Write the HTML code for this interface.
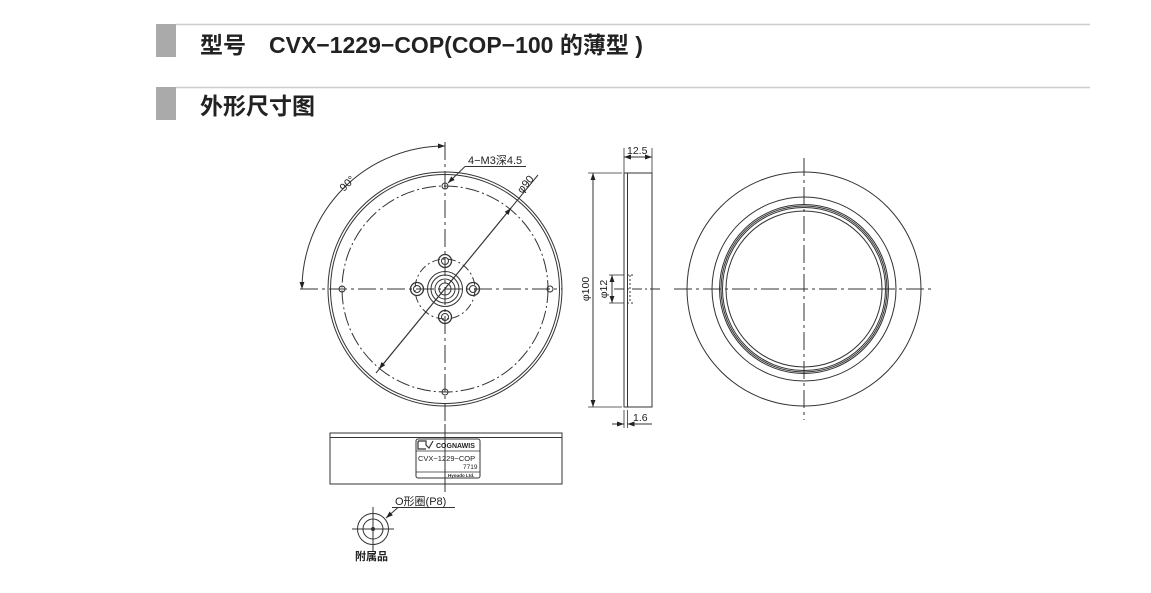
<!DOCTYPE html>
<html><head><meta charset="utf-8"><style>
html,body{margin:0;padding:0;background:#fff;}
svg{display:block;}
text{font-family:"Liberation Sans","Noto Sans CJK SC",sans-serif;fill:#222;}
</style></head><body>
<svg width="1151" height="593" viewBox="0 0 1151 593" xmlns="http://www.w3.org/2000/svg">
<defs>
<marker id="a" viewBox="0 0 10 10" refX="10" refY="5" markerWidth="7" markerHeight="7" orient="auto-start-reverse" markerUnits="userSpaceOnUse"><path d="M0,1.5 L10,5 L0,8.5 z" fill="#222"/></marker>
</defs>
<!-- headers -->
<rect x="156" y="24" width="20" height="33" fill="#aaa"/>
<line x1="176" y1="24.5" x2="1090" y2="24.5" stroke="#ccc" stroke-width="1.5"/>
<text x="200" y="53" font-size="23" font-weight="bold">型号　CVX−1229−COP(COP−100 的薄型 )</text>
<rect x="156" y="87" width="20" height="33" fill="#aaa"/>
<line x1="176" y1="87.5" x2="1090" y2="87.5" stroke="#ccc" stroke-width="1.5"/>
<text x="200" y="114" font-size="23" font-weight="bold">外形尺寸图</text>

<g fill="none" stroke="#333" stroke-width="1">
<!-- front view -->
<circle cx="445" cy="289" r="117"/>
<circle cx="445" cy="289" r="114.5"/>
<circle cx="445" cy="289" r="103" stroke-dasharray="14 3 2 3"/>
<line x1="300" y1="289" x2="562" y2="289" stroke-dasharray="18 4 3 4"/>
<line x1="445" y1="142" x2="445" y2="432" stroke-dasharray="18 4 3 4"/>
<circle cx="445" cy="186" r="3"/><circle cx="445" cy="392" r="3"/>
<circle cx="342" cy="289" r="3"/><circle cx="550" cy="289" r="3"/>
<circle cx="445" cy="289" r="30" stroke-dasharray="8 3 2 3"/>
<circle cx="445" cy="289" r="17.5"/><circle cx="445" cy="289" r="14"/><circle cx="445" cy="289" r="10"/><circle cx="445" cy="289" r="6"/>
<g stroke-width="1.3">
<circle cx="445" cy="261" r="6.5"/><circle cx="445" cy="317" r="6.5"/><circle cx="417" cy="289" r="6.5"/><circle cx="473" cy="289" r="6.5"/>
</g>
<circle cx="445" cy="261" r="3.5"/><circle cx="445" cy="317" r="3.5"/><circle cx="417" cy="289" r="3.5"/><circle cx="473" cy="289" r="3.5"/>
<line x1="376" y1="373" x2="538" y2="175"/>
<line x1="379" y1="369" x2="511" y2="208" marker-start="url(#a)" marker-end="url(#a)"/>
<path d="M445,146 A143,143 0 0 0 302,289" marker-start="url(#a)" marker-end="url(#a)"/>
<line x1="465" y1="166.5" x2="526" y2="166.5"/>
<line x1="465" y1="166.5" x2="448" y2="183" marker-end="url(#a)"/>
<!-- side view -->
<rect x="624" y="173" width="28" height="234"/>
<line x1="627.5" y1="173" x2="627.5" y2="407"/>
<line x1="624" y1="148" x2="624" y2="173" stroke-width="0.8"/>
<line x1="652" y1="148" x2="652" y2="173" stroke-width="0.8"/>
<line x1="624" y1="157" x2="652" y2="157" marker-start="url(#a)" marker-end="url(#a)"/>
<line x1="588" y1="173" x2="622" y2="173" stroke-width="0.8"/>
<line x1="588" y1="407" x2="622" y2="407" stroke-width="0.8"/>
<line x1="593" y1="173" x2="593" y2="407" marker-start="url(#a)" marker-end="url(#a)"/>
<line x1="609" y1="275" x2="624" y2="275" stroke-width="0.8"/>
<line x1="609" y1="303" x2="624" y2="303" stroke-width="0.8"/>
<line x1="612" y1="275" x2="612" y2="303" marker-start="url(#a)" marker-end="url(#a)"/>
<path d="M627,275 H633 M627,303 H633 M630,275 V303" stroke-dasharray="2 2"/>
<line x1="614" y1="289" x2="660" y2="289" stroke-dasharray="10 3 2 3"/>
<line x1="624" y1="410" x2="624" y2="428" stroke-width="0.8"/>
<line x1="627.5" y1="410" x2="627.5" y2="428" stroke-width="0.8"/>
<line x1="612" y1="424" x2="624" y2="424" marker-end="url(#a)"/>
<line x1="652" y1="424" x2="627.5" y2="424" marker-end="url(#a)"/>
<!-- right view -->
<circle cx="804" cy="289" r="117"/>
<circle cx="804" cy="289" r="92"/>
<circle cx="804" cy="289" r="84.5"/><circle cx="804" cy="289" r="83"/><circle cx="804" cy="289" r="81.5"/>
<circle cx="804" cy="289" r="78"/>
<line x1="674" y1="289" x2="935" y2="289" stroke-dasharray="18 4 3 4"/>
<line x1="804" y1="158" x2="804" y2="420" stroke-dasharray="18 4 3 4"/>
<!-- bottom side view -->
<rect x="330" y="433" width="232" height="51"/>
<line x1="330" y1="437.5" x2="562" y2="437.5"/>
<rect x="416" y="439" width="64" height="39" rx="2"/>
<line x1="416" y1="451" x2="480" y2="451" stroke-width="0.8"/>
<line x1="416" y1="472" x2="480" y2="472" stroke-width="0.8"/>
<line x1="445" y1="424" x2="445" y2="492"/>
<path d="M418,441 h8 v4 l3,3 l4,-7 M418,441 v8 h8" stroke-width="1.2"/>
<!-- O ring -->
<circle cx="373" cy="529" r="15.5"/>
<circle cx="373" cy="529" r="10"/>
<circle cx="373" cy="529" r="1.5" fill="#333"/>
<line x1="352" y1="529" x2="394" y2="529"/>
<line x1="373" y1="507" x2="373" y2="551"/>
<line x1="392" y1="507.5" x2="455" y2="507.5"/>
<line x1="398" y1="507.5" x2="386" y2="518" marker-end="url(#a)"/>
</g>

<g font-size="11">
<text x="468" y="164">4−M3深4.5</text>
<text transform="translate(522,194) rotate(-50)">φ90</text>
<text transform="translate(344,192) rotate(-45)">90°</text>
<text x="627" y="154" font-size="10.5">12.5</text>
<text transform="translate(589,289) rotate(-90)" font-size="10.5" text-anchor="middle">φ100</text>
<text transform="translate(607,289) rotate(-90)" font-size="10.5" text-anchor="middle">φ12</text>
<text x="633" y="421" font-size="10.5">1.6</text>
<text x="395" y="505">O形圈(P8)</text>
<text x="355" y="560" font-weight="bold" font-size="11">附属品</text>
<text x="418" y="461" font-size="7.5">CVX−1229−COP</text>
<text x="463" y="469" font-size="6.5">7719</text>
<text x="448" y="477" font-size="4.5" font-weight="bold">Hyoudo Ltd.</text>
<text x="436" y="448" font-size="7" font-weight="bold">COGNAWIS</text>
</g>
</svg>
</body></html>
